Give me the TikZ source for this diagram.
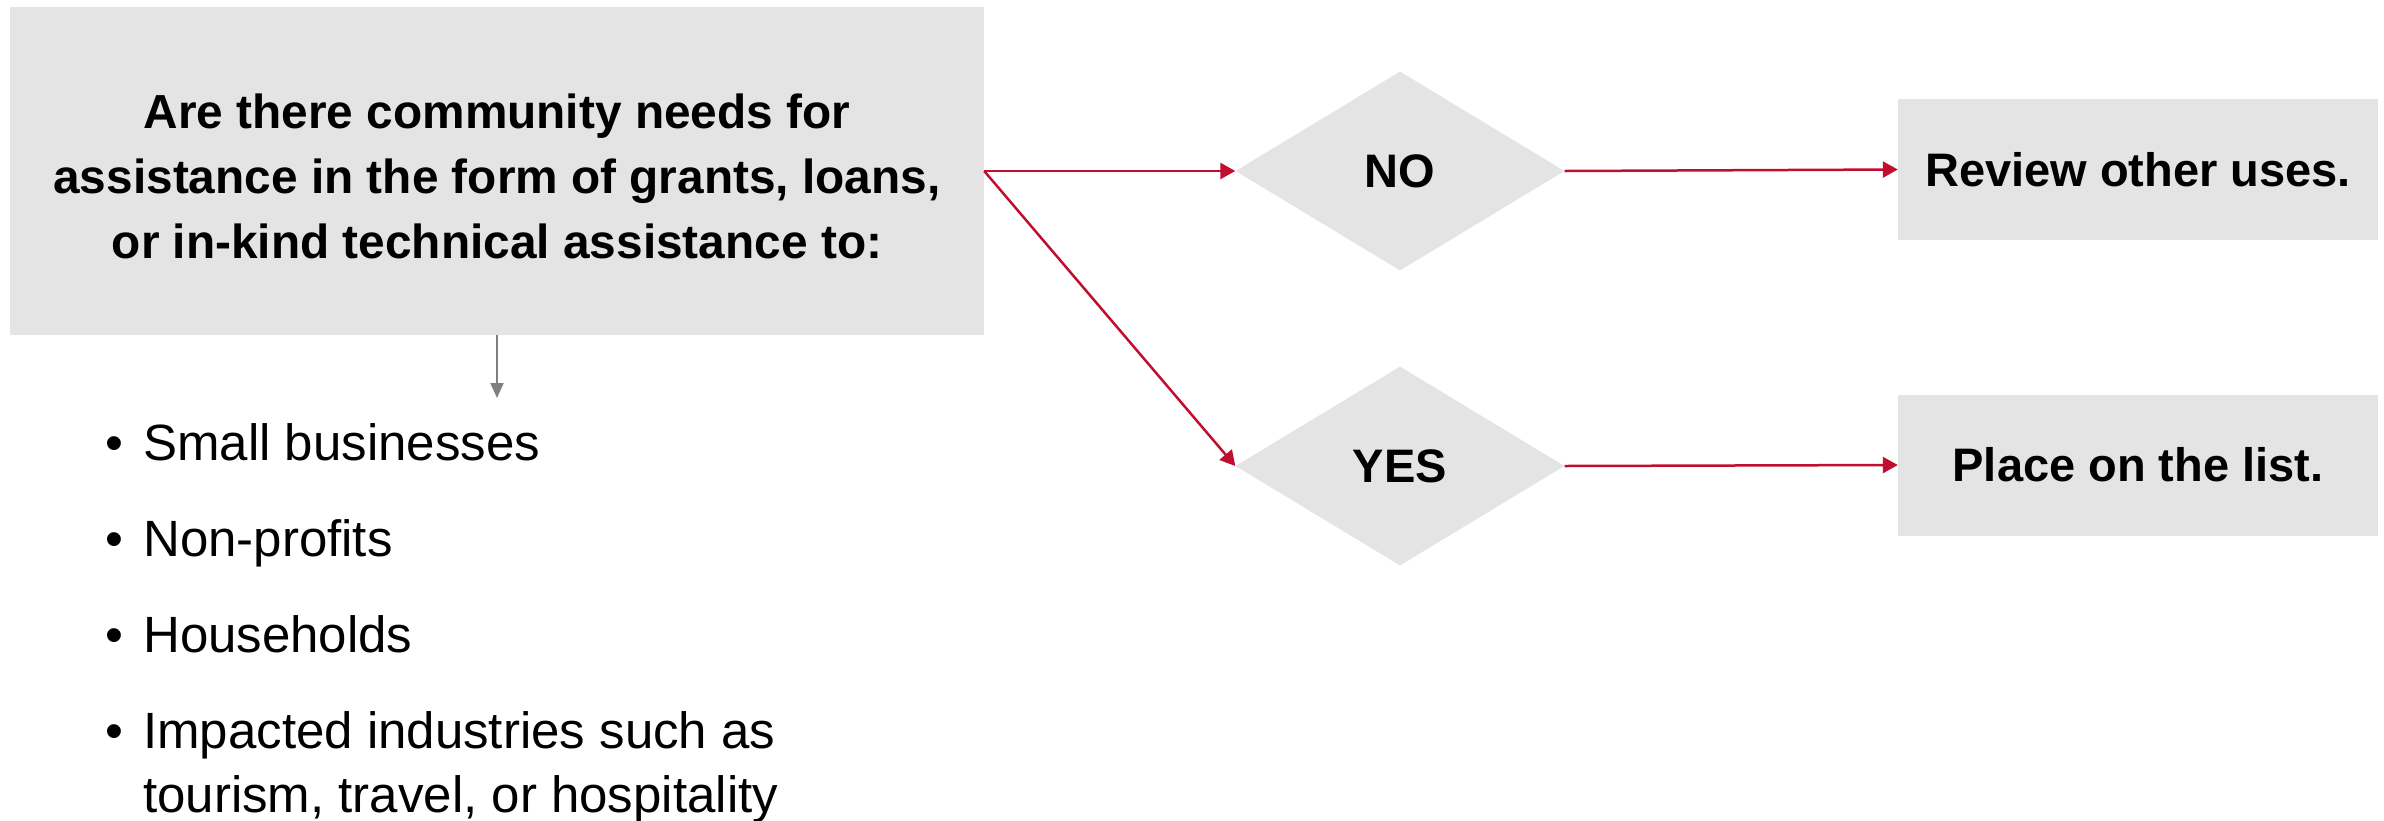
\documentclass[tikz,border=0pt]{standalone}
\usepackage{fontspec}
\setmainfont{Liberation Sans}
\usetikzlibrary{arrows.meta,shapes.geometric}
\definecolor{boxgray}{HTML}{E4E4E4}
\definecolor{arrred}{HTML}{C00D30}
\definecolor{arrgray}{HTML}{7F7F7F}
\begin{document}
\begin{tikzpicture}[x=1pt,y=-1pt,
  bigbox/.style={rectangle,fill=boxgray,inner sep=0pt,minimum width=974pt,minimum height=328pt},
  resbox/.style={rectangle,fill=boxgray,inner sep=0pt,minimum width=480pt,minimum height=141pt,
     font=\fontsize{47}{64}\selectfont\bfseries,text height=33.7pt,text depth=0pt},
  decision/.style={diamond,fill=boxgray,inner sep=0pt,minimum width=329pt,minimum height=199pt,
     font=\fontsize{47}{64}\selectfont\bfseries,text height=33.7pt,text depth=0pt},
  qtext/.style={align=center,font=\fontsize{47.8}{65}\selectfont\bfseries,inner sep=0pt},
  itemtext/.style={font=\fontsize{51}{64}\selectfont,inner sep=0pt,anchor=base west,align=left},
  bullet/.style={font=\fontsize{51}{64}\selectfont,inner sep=0pt,anchor=base},
  redarrow/.style={draw=arrred,line width=2.5pt,-{Triangle[length=15pt,width=16pt]}},
  grayarrow/.style={draw=arrgray,line width=2pt,-{Triangle[length=15pt,width=13pt]}}
]
\useasboundingbox (0,0) rectangle (2384,820);

\node[bigbox] (q) at (497,171) {};
\node[qtext,anchor=base] (qt) at (497,258) {Are there community needs for\\assistance in the form of grants, loans,\\or in-kind technical assistance to:};

\coordinate (listtop) at (497,398);
\draw[grayarrow] (q.south) -- (listtop);

\node[bullet] (b1) at (114,460) {•};
\node[itemtext] (i1) at (143,460) {Small businesses};
\node[bullet] (b2) at (114,556) {•};
\node[itemtext] (i2) at (143,556) {Non-profits};
\node[bullet] (b3) at (114,652) {•};
\node[itemtext] (i3) at (143,652) {Households};
\node[bullet] (b4) at (114,748) {•};
\node[itemtext] (i4) at (143,748) {Impacted industries such as};
\node[itemtext] (i5) at (143,812) {tourism, travel, or hospitality};

\node[decision] (no) at (1400,171) {NO};
\node[decision] (yes) at (1400,466) {YES};

\node[resbox] (rev) at (2138,169.5) {Review other uses.};
\node[resbox] (place) at (2138,465) {Place on the list.};

\draw[redarrow] (q.east) -- (no.west);
\draw[redarrow] (q.east) -- (yes.west);
\draw[redarrow] (no.east) -- (rev.west);
\draw[redarrow] (yes.east) -- (place.west);
\end{tikzpicture}
\end{document}
